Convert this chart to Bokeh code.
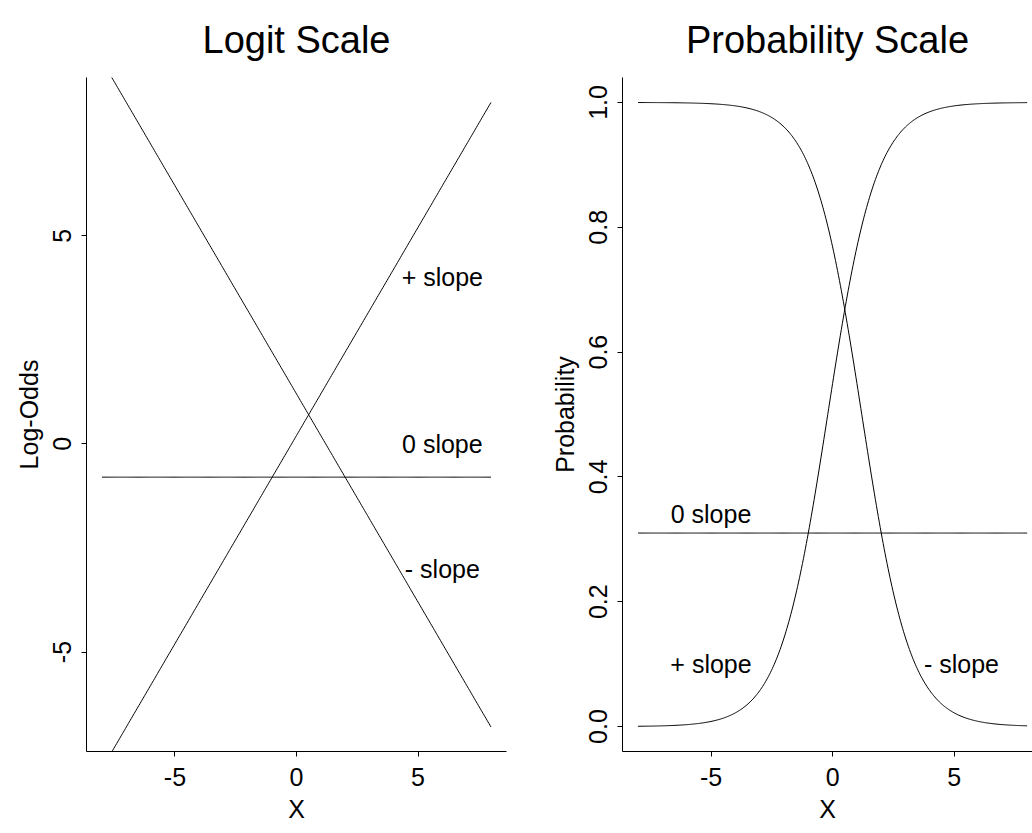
import numpy as np
from bokeh.plotting import figure
from bokeh.layouts import row
from bokeh.models import Range1d, FixedTicker, PrintfTickFormatter
from bokeh.core.properties import value
from bokeh.embed import file_html
from bokeh.resources import INLINE

# Linear predictors: log-odds = intercept + slope * x
curve_names = ["+ slope", "0 slope", "- slope"]
intercepts = [0.2, -0.8, 1.2]
slopes = [1.0, 0.0, -1.0]
x_from, x_to = -8.0, 8.0

# Label positions on each panel
logit_label_x = [6.0, 6.0, 6.0]
logit_label_y = [4.0, 0.0, -3.0]
prob_label_x = [-5.0, -5.0, 5.3]
prob_label_y = [0.10, 0.34, 0.10]

# Tick positions
x_ticks = [-5, 0, 5]
logit_ticks = [-5, 0, 5]
prob_ticks = [0.0, 0.2, 0.4, 0.6, 0.8, 1.0]

FONT = "Liberation Sans"
xs = np.linspace(x_from, x_to, 401)


def style(p):
    p.outline_line_color = None
    p.grid.visible = False
    p.background_fill_color = "white"
    p.border_fill_color = "white"
    p.title.text_font = FONT
    p.title.text_font_size = "38px"
    p.title.text_font_style = "normal"
    p.title.align = "center"
    p.title.vertical_align = "top"
    p.title.text_color = "black"
    p.title.standoff = 30
    for ax in p.axis:
        ax.axis_line_color = "black"
        ax.axis_line_width = 1
        ax.major_tick_line_color = "black"
        ax.major_tick_out = 5
        ax.major_tick_in = 0
        ax.minor_tick_line_color = None
        ax.major_label_text_font = FONT
        ax.major_label_text_font_size = "25px"
        ax.major_label_text_color = "black"
        ax.axis_label_text_font = FONT
        ax.axis_label_text_font_size = "25px"
        ax.axis_label_text_font_style = "normal"
        ax.axis_label_text_color = "black"
    p.xaxis.major_label_standoff = 11
    p.xaxis.axis_label_standoff = 6
    p.yaxis.major_label_standoff = 10
    p.yaxis.axis_label_standoff = 8
    p.yaxis.major_label_orientation = "vertical"


# Left panel: log-odds scale
p1 = figure(width=530, height=832, title="Logit Scale",
            x_range=Range1d(-8.64, 8.64), y_range=Range1d(-7.39, 8.80),
            min_border_left=86, min_border_right=24, min_border_top=77, min_border_bottom=81,
            toolbar_location=None, output_backend="svg")
for b0, b1 in zip(intercepts, slopes):
    p1.line(xs, b0 + b1 * xs, line_color="black", line_width=1)
p1.text(x=logit_label_x, y=logit_label_y, text=curve_names,
        text_font=value(FONT), text_font_size="25px", text_color="black",
        text_align="center", text_baseline="middle")
p1.xaxis.ticker = FixedTicker(ticks=x_ticks)
p1.yaxis.ticker = FixedTicker(ticks=logit_ticks)
p1.xaxis.formatter = PrintfTickFormatter(format="%d")
p1.yaxis.formatter = PrintfTickFormatter(format="%d")
p1.xaxis.axis_label = "X"
p1.yaxis.axis_label = "Log-Odds"
style(p1)

# Right panel: probability scale
p2 = figure(width=502, height=832, title="Probability Scale",
            x_range=Range1d(-8.64, 8.22), y_range=Range1d(-0.04, 1.04),
            min_border_left=92, min_border_right=0, min_border_top=77, min_border_bottom=81,
            toolbar_location=None, output_backend="svg")
for b0, b1 in zip(intercepts, slopes):
    p2.line(xs, 1.0 / (1.0 + np.exp(-(b0 + b1 * xs))), line_color="black", line_width=1)
p2.text(x=prob_label_x, y=prob_label_y, text=curve_names,
        text_font=value(FONT), text_font_size="25px", text_color="black",
        text_align="center", text_baseline="middle")
p2.xaxis.ticker = FixedTicker(ticks=x_ticks)
p2.yaxis.ticker = FixedTicker(ticks=prob_ticks)
p2.xaxis.formatter = PrintfTickFormatter(format="%d")
p2.yaxis.formatter = PrintfTickFormatter(format="%.1f")
p2.xaxis.axis_label = "X"
p2.yaxis.axis_label = "Probability"
style(p2)

layout = row(p1, p2)
open("out.html", "w").write(file_html(layout, INLINE))
